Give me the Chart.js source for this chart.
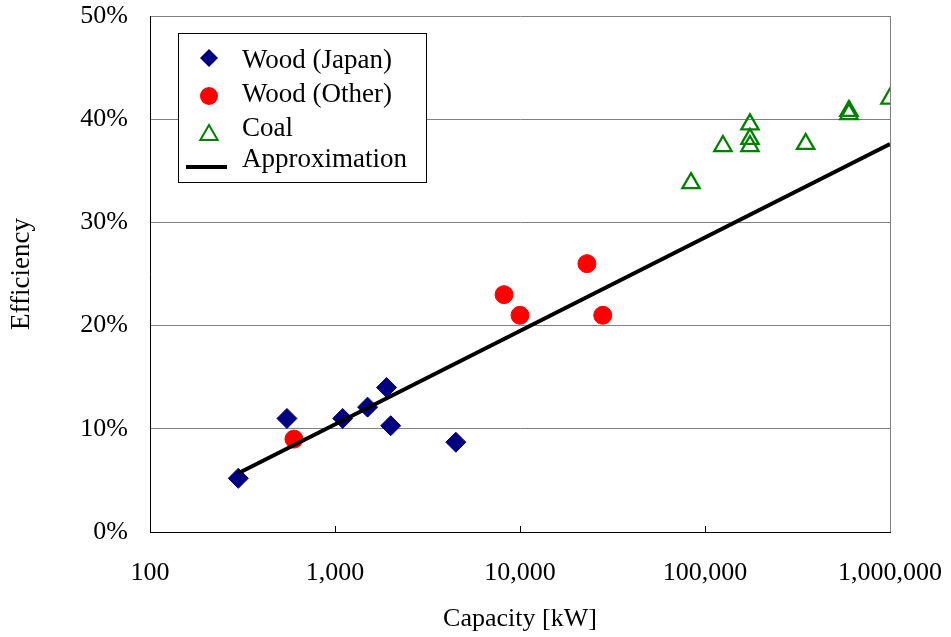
<!DOCTYPE html>
<html>
<head>
<meta charset="utf-8">
<script src="https://cdn.jsdelivr.net/npm/chart.js@4.4.0/dist/chart.umd.min.js"></script>
<style>
html, body { margin:0; padding:0; background:#fff; }
#wrap { width:951px; height:637px; }
</style>
</head>
<body>
<div id="wrap"><canvas id="effChart"></canvas></div>
<script>
// capacity [kW] and efficiency [%]
const japanCap = [300, 550, 1100, 1500, 1900, 2000, 4500]
const japanEff = [5.2, 11.0, 11.0, 12.1, 14.0, 10.3, 8.7]

const otherCap = [600, 8200, 10000, 23000, 28000]
const otherEff = [9.0, 23.0, 21.0, 26.0, 21.0]

const coalCap = [84000, 125000, 175000, 175000, 175000, 350000, 600000, 600000, 1000000]
const coalEff = [33.8, 37.4, 39.5, 38.1, 37.4, 37.6, 40.5, 40.8, 42.0]

// approximation line ends
const approxCap = [300, 1000000]
const approxEff = [5.7, 37.6]

const xTicks = [100, 1000, 10000, 100000, 1000000]
const yTicks = [0, 10, 20, 30, 40, 50]

const serif = 'Liberation Serif'

function toPts(xs, ys){
    return xs.map(function(x, i){ return {x: x, y: ys[i]} })
}

// legend box drawn on the canvas, top left of the plot
const boxLegend = {
    id: 'boxLegend',
    afterDraw(chart){
        const ctx = chart.ctx
        const bx = 178, by = 33, bw = 248, bh = 149
        ctx.save()
        ctx.fillStyle = '#fff'
        ctx.fillRect(bx, by, bw, bh)
        ctx.strokeStyle = '#000'
        ctx.lineWidth = 1
        ctx.strokeRect(bx + 0.5, by + 0.5, bw, bh)

        const baselines = [68, 102, 136, 167]
        const symY = [58, 96, 135, 167]
        const sx = 209
        chart.data.datasets.forEach(function(ds, i){
            const y = symY[i]
            ctx.beginPath()
            if (ds.pointStyle === 'rectRot'){
                ctx.fillStyle = ds.backgroundColor
                ctx.moveTo(sx, y - 9); ctx.lineTo(sx + 9, y); ctx.lineTo(sx, y + 9); ctx.lineTo(sx - 9, y)
                ctx.closePath(); ctx.fill()
            } else if (ds.pointStyle === 'circle'){
                ctx.fillStyle = ds.backgroundColor
                ctx.arc(sx, y, 9, 0, Math.PI * 2); ctx.fill()
            } else if (ds.pointStyle === 'triangle'){
                ctx.strokeStyle = ds.borderColor
                ctx.lineWidth = 2
                const r = 10
                ctx.moveTo(sx, y - r); ctx.lineTo(sx + r * 0.866, y + r / 2); ctx.lineTo(sx - r * 0.866, y + r / 2)
                ctx.closePath(); ctx.stroke()
            } else {
                ctx.strokeStyle = ds.borderColor
                ctx.lineWidth = 4
                ctx.moveTo(186, y); ctx.lineTo(227, y); ctx.stroke()
            }
            ctx.fillStyle = '#000'
            ctx.font = '27px "' + serif + '"'
            ctx.textAlign = 'left'
            ctx.textBaseline = 'alphabetic'
            ctx.fillText(ds.label, 242, baselines[i])
        })
        ctx.restore()
    }
}

const data = {
    datasets: [{
        label: 'Wood (Japan)',
        data: toPts(japanCap, japanEff),
        pointStyle: 'rectRot',
        pointRadius: 10,
        backgroundColor: '#000080',
        borderColor: '#000080',
        borderWidth: 1,
        order: 1
    }, {
        label: 'Wood (Other)',
        data: toPts(otherCap, otherEff),
        pointStyle: 'circle',
        pointRadius: 9,
        backgroundColor: '#ff0000',
        borderColor: '#ff0000',
        borderWidth: 1,
        order: 1
    }, {
        label: 'Coal',
        data: toPts(coalCap, coalEff),
        pointStyle: 'triangle',
        pointRadius: 10,
        backgroundColor: 'rgba(255,255,255,0)',
        borderColor: '#008000',
        borderWidth: 2.3,
        order: 1
    }, {
        label: 'Approximation',
        type: 'line',
        data: toPts(approxCap, approxEff),
        showLine: true,
        borderColor: '#000',
        borderWidth: 4,
        pointRadius: 0,
        fill: false,
        order: 0
    }]
}

const config = {
    type: 'scatter',
    data,
    options: {
        responsive: true,
        maintainAspectRatio: false,
        animation: false,
        layout: { padding: { top: 16, right: 61, left: 0, bottom: 0 } },
        plugins: { legend: { display: false }, tooltip: { enabled: false } },
        scales: {
            x: {
                type: 'logarithmic',
                min: 100,
                max: 1000000,
                afterBuildTicks: function(s){ s.ticks = xTicks.map(function(v){ return {value: v} }) },
                afterFit: function(s){
                    s.height = 105
                    // keep the label overhang out of the layout, padding is set above
                    s.paddingLeft = 0; s.paddingRight = 0
                },
                ticks: {
                    callback: function(v){ return Number(v).toLocaleString('en-US') },
                    color: '#000',
                    font: { family: serif, size: 26 },
                    padding: 32,
                    maxRotation: 0,
                    autoSkip: false
                },
                grid: {
                    color: function(c){ return c.tick && c.tick.value === 1000000 ? '#808080' : 'rgba(0,0,0,0)' },
                    tickColor: function(c){ return c.tick && (c.tick.value === 100 || c.tick.value === 1000000) ? 'rgba(0,0,0,0)' : '#000' },
                    tickLength: -6,
                    drawTicks: true
                },
                border: { color: '#000', width: 1 },
                title: { display: true, text: 'Capacity [kW]', color: '#000', font: { family: serif, size: 26 }, padding: { top: 0, bottom: 2 } }
            },
            y: {
                min: 0,
                max: 50,
                afterBuildTicks: function(s){ s.ticks = yTicks.map(function(v){ return {value: v} }) },
                afterFit: function(s){
                    s.width = 150
                    s.paddingTop = 0; s.paddingBottom = 0
                },
                ticks: {
                    callback: function(v){ return v + '%' },
                    color: '#000',
                    font: { family: serif, size: 26 },
                    padding: 22
                },
                grid: {
                    color: function(c){ return c.tick && c.tick.value === 0 ? 'rgba(0,0,0,0)' : '#808080' },
                    drawTicks: false
                },
                border: { color: '#000', width: 1 },
                title: { display: true, text: 'Efficiency', color: '#000', font: { family: serif, size: 27 }, padding: { top: 6, bottom: 0 } }
            }
        }
    },
    plugins: [boxLegend]
}

let myChart = new Chart(document.getElementById('effChart'), config)
</script>
</body>
</html>
